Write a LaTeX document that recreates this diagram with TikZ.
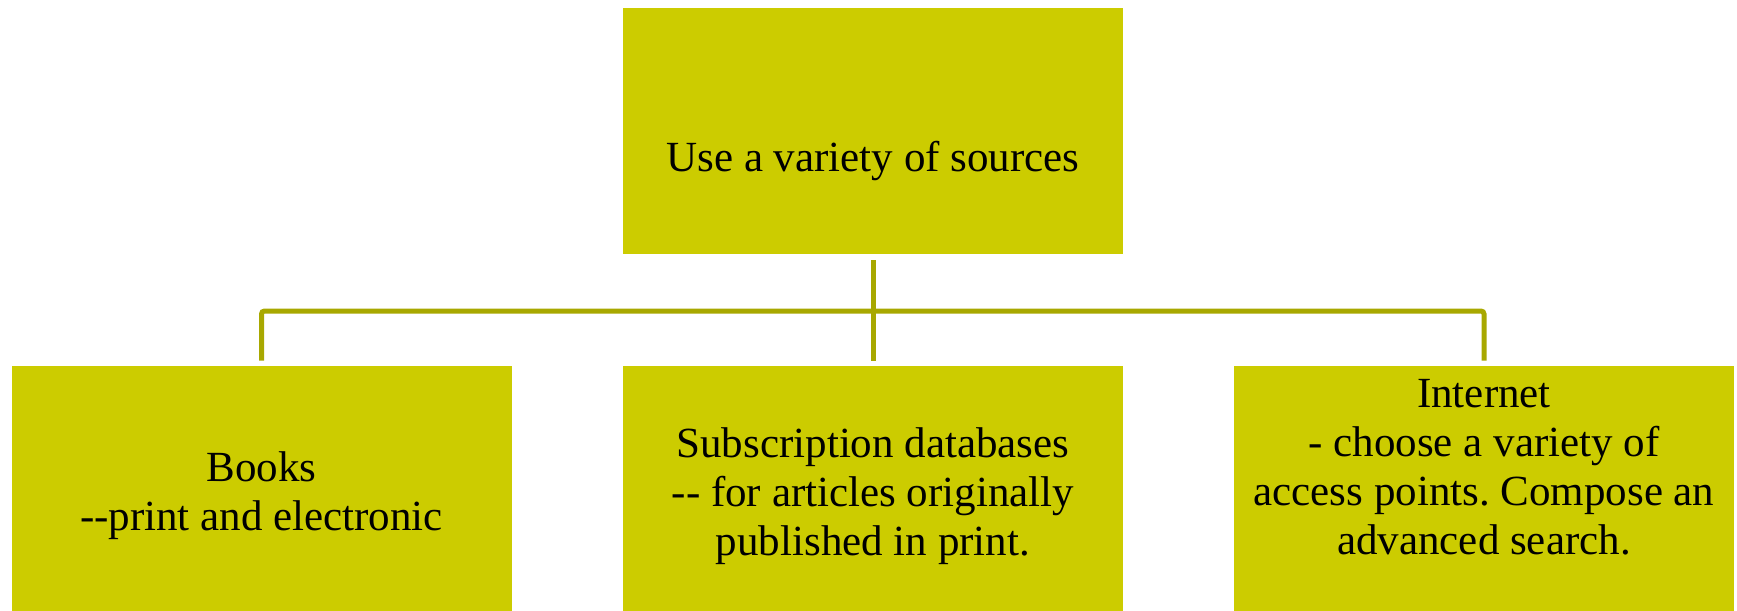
\documentclass[tikz,border=0pt]{standalone}
\usepackage{fontspec}
\setmainfont{Liberation Serif}
\definecolor{boxfill}{RGB}{204,204,0}
\definecolor{linecol}{RGB}{168,168,0}
\tikzset{
  box/.style={rectangle, fill=boxfill, draw=none, minimum width=250pt, minimum height=123pt, inner sep=0pt},
  txt/.style={anchor=base, inner sep=0pt, font=\fontsize{21.5pt}{24.5pt}\selectfont},
  conn/.style={draw=linecol, line width=2.5pt}
}
\newcommand{\boxtext}[1]{\parbox[t]{245pt}{\centering\frenchspacing\fontsize{21.5pt}{24.5pt}\selectfont #1}}
\begin{document}
\begin{tikzpicture}[x=0.5pt,y=-0.5pt]
\useasboundingbox (0,0) rectangle (1737,611);
\begin{scope}
\clip (0,0) rectangle (1737,611);
\node[box] (top) at (873,131) {};
\node[box] (left) at (261.5,489) {};
\node[box] (mid) at (873,489) {};
\node[box] (right) at (1484,489) {};
\end{scope}
\coordinate (bar) at (873,311);
\draw[conn] ([yshift=-3pt]top.south) -- ([yshift=2.5pt]mid.north);
\draw[conn, rounded corners=1.5pt] ([yshift=2.5pt]left.north) |- (bar) -| ([yshift=2.5pt]right.north);
\node[txt] (ttop) at (873,171) {\boxtext{Use a variety of sources}};
\node[txt] (tleft) at (261.5,481) {\boxtext{Books\\-{}-print and electronic}};
\node[txt] (tmid) at (873,457) {\boxtext{Subscription databases\\-{}- for articles originally\\published in print.}};
\node[txt] (tright) at (1484,407) {\boxtext{Internet\\- choose a variety of\\access points. Compose an\\advanced search.}};
\end{tikzpicture}
\end{document}
